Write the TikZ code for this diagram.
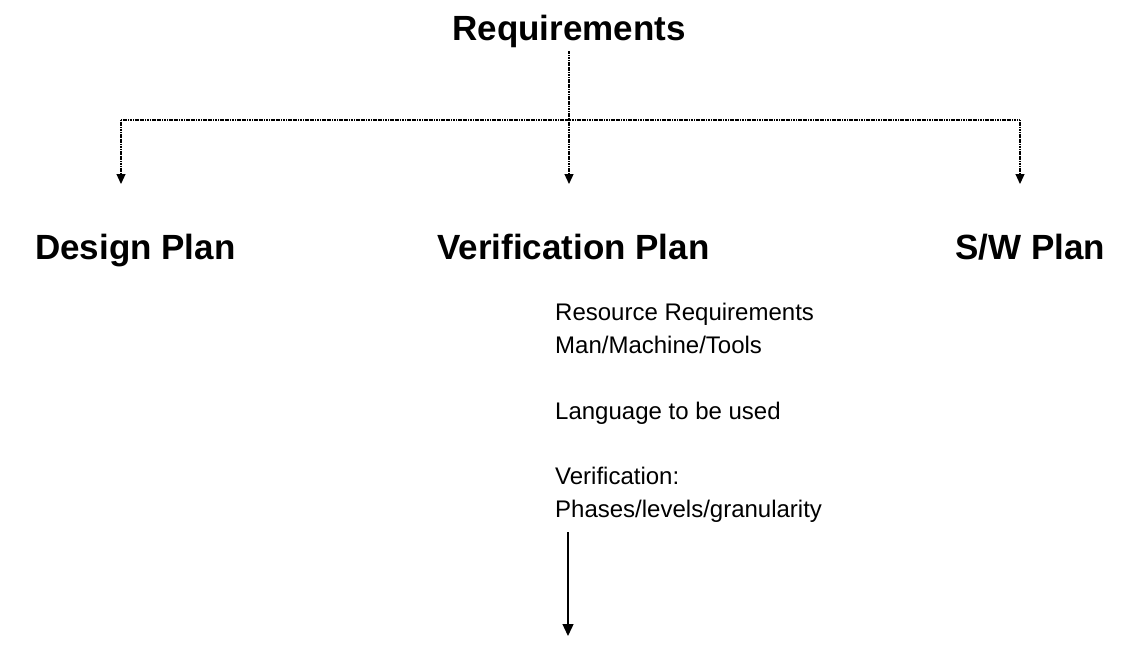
\documentclass[tikz,border=0pt]{standalone}
\usepackage{fontspec}
\setmainfont{Liberation Sans}
\usetikzlibrary{arrows.meta}
\tikzset{
  heading/.style={font=\fontsize{35}{40}\selectfont\bfseries, inner sep=0pt, anchor=base},
  item/.style={font=\fontsize{24}{28}\selectfont, inner sep=0pt, anchor=base west},
  dotline/.style={line width=1.2pt, dash pattern=on 1.2pt off 0.5pt},
  dotarrow/.style={dotline, -{Triangle[width=9pt,length=10pt]}},
  solidarrow/.style={line width=1.3pt, -{Triangle[width=11pt,length=12pt]}}
}
\begin{document}
\begin{tikzpicture}[x=1pt,y=1pt]
\useasboundingbox (0,0) rectangle (1127,-654);
\fill[white] (0,0) rectangle (1127,-654);

% top level and the three plans
\node[heading] (req) at (569,-40) {Requirements};
\node[heading, anchor=base west] (dp) at (35,-259) {Design Plan};
\node[heading, anchor=base west] (vp) at (437,-259) {Verification Plan};
\node[heading, anchor=base west] (sp) at (955,-259) {S/W Plan};

% contents of the verification plan
\node[item] (rr) at (555,-320) {Resource Requirements};
\node[item] (mm) at (555,-353) {Man/Machine/Tools};
\node[item] (lg) at (555,-419) {Language to be used};
\node[item] (vf) at (555,-484) {Verification:};
\node[item] (ph) at (555,-517) {Phases/levels/granularity};

% dotted distribution bus
\coordinate (hub) at (569,-120);
\coordinate (hubL) at (121,-120);
\coordinate (hubR) at (1020,-120);
\coordinate (tipD) at (121,-184);
\coordinate (tipV) at (569,-184);
\coordinate (tipS) at (1020,-184);
\draw[dotline] ([yshift=-4pt]req.south) -- (hub);
\draw[dotline] (hubL) -- (hubR);
\draw[dotarrow] (hubL) -- (tipD);
\draw[dotarrow] (hub) -- (tipV);
\draw[dotarrow] (hubR) -- (tipS);

% onward arrow below the list
\coordinate (out) at (568,-636);
\draw[solidarrow] ([yshift=-10pt]ph.south -| out) -- (out);
\end{tikzpicture}
\end{document}
